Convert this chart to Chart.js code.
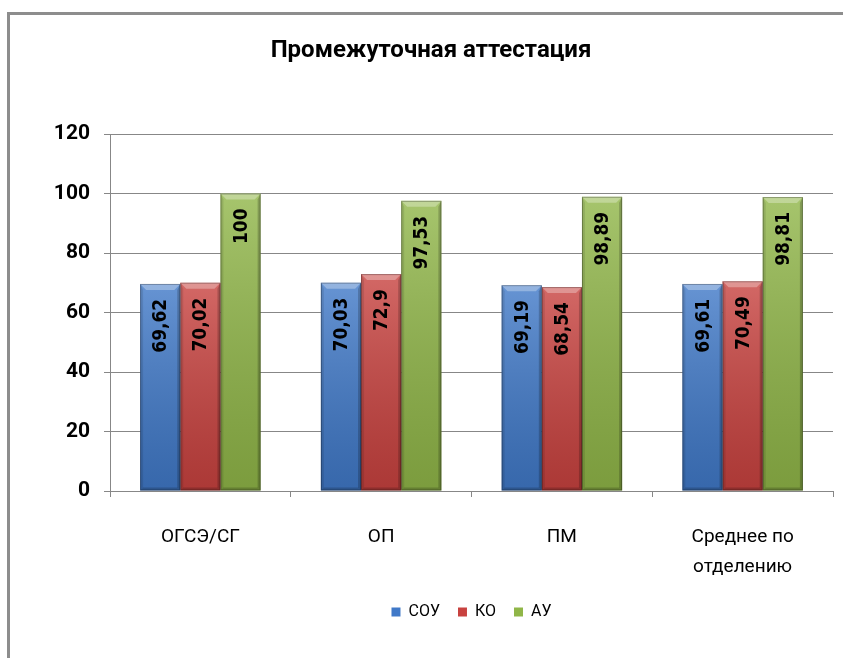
<!DOCTYPE html>
<html lang="ru">
<head>
<meta charset="utf-8">
<title>Промежуточная аттестация</title>
<script src="https://cdn.jsdelivr.net/npm/chart.js@4.4.1/dist/chart.umd.min.js"></script>
<style>
  html, body { margin: 0; padding: 0; background: #fff; overflow: hidden; }
  .frame {
    position: absolute; left: 7px; top: 12px; width: 900px; height: 700px;
    border-left: 3px solid #8d8d8d; border-top: 3px solid #8d8d8d;
  }
  #chart { position: absolute; left: 0; top: 0; }
</style>
</head>
<body>
<div class="frame"></div>
<canvas id="chart" width="843" height="658"></canvas>
<script>
// Chart data
const categories = ["ОГСЭ/СГ", "ОП", "ПМ", ["Среднее по", "отделению"]]
const seriesNames = ["СОУ", "КО", "АУ"]
const souValues = [69.62, 70.03, 69.19, 69.61]
const koValues = [70.02, 72.9, 68.54, 70.49]
const auValues = [100, 97.53, 98.89, 98.81]
const yMin = 0
const yMax = 120
const yStep = 20

const seriesColors = ["#4079c8", "#c8423f", "#90b648"]
const gridColor = "#878787"

Chart.defaults.font.family = "Roboto"
Chart.defaults.color = "#000"

// Excel 2007 style shading drawn on top of each bar
const bevelPlugin = {
  id: "bevel",
  afterDatasetsDraw(chart) {
    const { ctx } = chart
    chart.data.datasets.forEach((ds, i) => {
      chart.getDatasetMeta(i).data.forEach((bar) => {
        const { x, y, base, width } = bar.getProps(["x", "y", "base", "width"], true)
        const left = x - width / 2
        const right = x + width / 2
        const b = 6
        ctx.save()
        const g = ctx.createLinearGradient(0, y, 0, base)
        g.addColorStop(0, "rgba(255,255,255,0.2)")
        g.addColorStop(1, "rgba(0,0,0,0.14)")
        ctx.fillStyle = g
        ctx.fillRect(left, y, width, base - y)
        // top bevel
        ctx.beginPath()
        ctx.moveTo(left, y)
        ctx.lineTo(right, y)
        ctx.lineTo(right - b, y + b)
        ctx.lineTo(left + b, y + b)
        ctx.closePath()
        ctx.fillStyle = "rgba(255,255,255,0.3)"
        ctx.fill()
        // left bevel
        ctx.beginPath()
        ctx.moveTo(left, y)
        ctx.lineTo(left + 3, y + b)
        ctx.lineTo(left + 3, base - 3)
        ctx.lineTo(left, base)
        ctx.closePath()
        ctx.fillStyle = "rgba(0,0,0,0.10)"
        ctx.fill()
        // right bevel
        ctx.beginPath()
        ctx.moveTo(right, y)
        ctx.lineTo(right - 3, y + b)
        ctx.lineTo(right - 3, base - 3)
        ctx.lineTo(right, base)
        ctx.closePath()
        ctx.fillStyle = "rgba(0,0,0,0.2)"
        ctx.fill()
        // bottom bevel
        ctx.beginPath()
        ctx.moveTo(left, base)
        ctx.lineTo(left + 3, base - 3)
        ctx.lineTo(right - 3, base - 3)
        ctx.lineTo(right, base)
        ctx.closePath()
        ctx.fillStyle = "rgba(0,0,0,0.18)"
        ctx.fill()
        ctx.strokeStyle = "rgba(0,0,0,0.28)"
        ctx.lineWidth = 1
        ctx.strokeRect(left + 0.5, y + 0.5, width - 1, base - y - 1)
        ctx.restore()
      })
    })
  },
}

// Rotated value labels inside the top of each bar
const valueLabels = {
  id: "valueLabels",
  afterDatasetsDraw(chart) {
    const { ctx } = chart
    ctx.save()
    ctx.font = "bold 17px 'DejaVu Sans'"
    ctx.fillStyle = "#000"
    ctx.textAlign = "right"
    ctx.textBaseline = "middle"
    chart.data.datasets.forEach((ds, i) => {
      chart.getDatasetMeta(i).data.forEach((bar, j) => {
        const text = String(ds.data[j]).replace(".", ",")
        ctx.save()
        ctx.translate(bar.x + 1, bar.y + 15)
        ctx.rotate(-Math.PI / 2)
        ctx.scale(1, 1.15)
        ctx.fillText(text, 0, 0)
        ctx.restore()
      })
    })
    ctx.restore()
  },
}

const datasets = [souValues, koValues, auValues].map((values, i) => ({
  label: seriesNames[i],
  data: values,
  backgroundColor: seriesColors[i],
  borderWidth: 0,
  categoryPercentage: 2 / 3,
  barPercentage: 1,
}))

new Chart(document.getElementById("chart"), {
  type: "bar",
  data: { labels: categories, datasets },
  plugins: [bevelPlugin, valueLabels],
  options: {
    responsive: false,
    animation: false,
    layout: { padding: { left: 29, right: 10, top: 10, bottom: 28 } },
    plugins: {
      title: {
        display: true,
        text: "Промежуточная аттестация",
        color: "#000",
        font: { size: 24, weight: "bold" },
        padding: { top: 27, bottom: 68.2 },
      },
      legend: {
        position: "bottom",
        fullSize: false,
        labels: { font: { size: 16 }, color: "#000", boxWidth: 9, boxHeight: 9, padding: 18 },
      },
      tooltip: { enabled: false },
    },
    scales: {
      x: {
        grid: { drawOnChartArea: false, drawTicks: true, tickLength: 6, color: gridColor, offset: true },
        border: { color: gridColor },
        ticks: { font: { size: 19, lineHeight: 1.58 }, padding: 25, maxRotation: 0, autoSkip: false },
        afterFit: (scale) => { scale.height = 95 },
      },
      y: {
        min: yMin,
        max: yMax,
        grid: { color: gridColor, tickLength: 6 },
        border: { color: gridColor },
        ticks: { stepSize: yStep, font: { size: 21, weight: "bold" }, padding: 14 },
        afterFit: (scale) => { scale.width = 81 },
      },
    },
  },
})
</script>
</body>
</html>
